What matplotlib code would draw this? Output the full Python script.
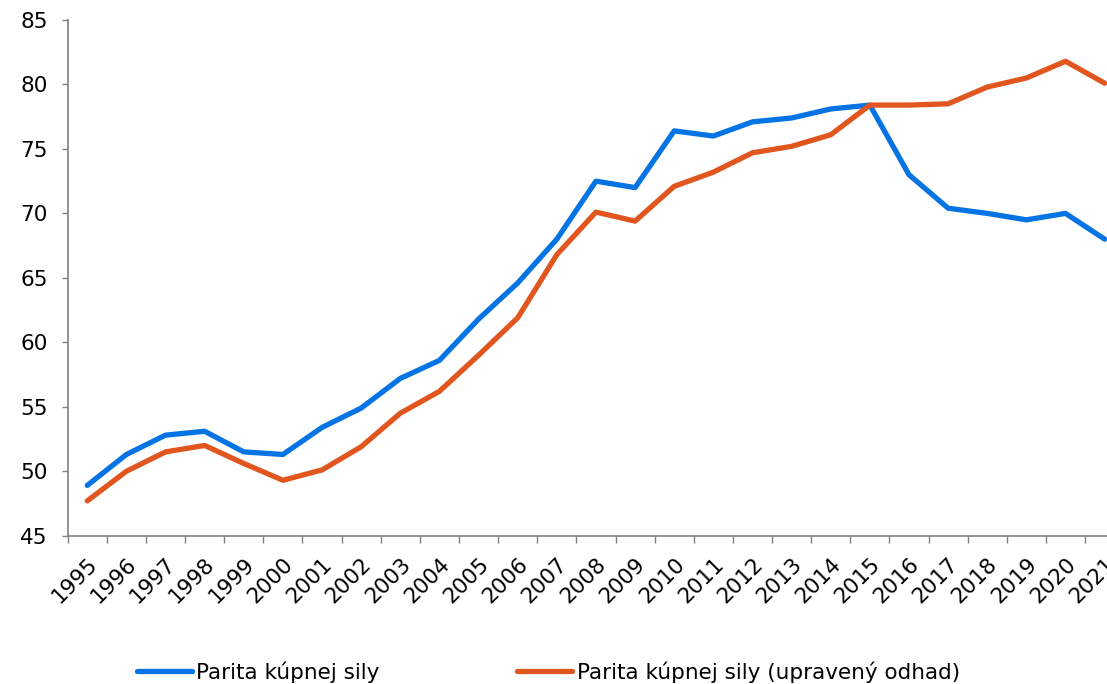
import matplotlib
matplotlib.use("Agg")
import matplotlib.pyplot as plt
import numpy as np

years = list(range(1995, 2022))
ppp = [48.9, 51.3, 52.8, 53.1, 51.5, 51.3, 53.4, 54.9, 57.2, 58.6,
       61.8, 64.6, 68.0, 72.5, 72.0, 76.4, 76.0, 77.1, 77.4, 78.1,
       78.4, 73.0, 70.4, 70.0, 69.5, 70.0, 68.0]
ppp_adj = [47.7, 50.0, 51.5, 52.0, 50.6, 49.3, 50.1, 51.9, 54.5, 56.2,
           59.0, 61.9, 66.8, 70.1, 69.4, 72.1, 73.2, 74.7, 75.2, 76.1,
           78.4, 78.4, 78.5, 79.8, 80.5, 81.8, 80.1]
labels = ["Parita kúpnej sily", "Parita kúpnej sily (upravený odhad)"]
colors = ["#0474E4", "#E0561E"]
yticks = [45, 50, 55, 60, 65, 70, 75, 80, 85]

plt.rcParams['font.family'] = ['DejaVu Sans']
fs = 15.5
W, H = 1107, 684
fig = plt.figure(figsize=(W / 100, H / 100), dpi=100)
# the category axis runs past the right edge of the picture, as in the original
ax = fig.add_axes([67.7 / W, 1 - 535.7 / H, 27 * 39.13 / W, (535.7 - 20) / H])

x = np.arange(len(years))
for vals, lab, col in zip([ppp, ppp_adj], labels, colors):
    ax.plot(x, vals, color=col, lw=3.8, label=lab, solid_joinstyle='round',
            solid_capstyle='round', clip_on=False)

ax.set_xlim(-0.5, len(years) - 0.5)
ax.set_ylim(45, 85)
ax.set_yticks(yticks)
ax.tick_params(axis='y', labelsize=fs, length=4.5, width=1, color='#808080', pad=10)
ax.set_xticks(x - 0.5, minor=False)
ax.set_xticklabels([])
ax.set_xticks(x, minor=True)
ax.set_xticklabels([str(y) for y in years], minor=True, rotation=45,
                   ha='right', va='top', rotation_mode='anchor')
ax.tick_params(axis='x', which='major', length=5, width=1, color='#808080')
ax.tick_params(axis='x', which='minor', length=0, labelsize=fs, pad=13)

for s in ['top', 'right']:
    ax.spines[s].set_visible(False)
for s in ['left', 'bottom']:
    ax.spines[s].set_color('#808080')
    ax.spines[s].set_linewidth(1.2)

fig.legend(loc='center left', bbox_to_anchor=(137 / W, 1 - 672 / H), ncol=2,
           frameon=False, fontsize=fs, handlelength=2.56, handletextpad=0.19,
           columnspacing=6.4, borderpad=0, borderaxespad=0)

fig.savefig("out.png", dpi=100)
